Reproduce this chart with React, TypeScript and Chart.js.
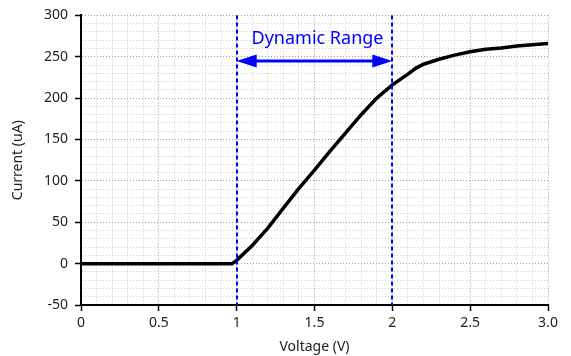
import React, { useEffect, useRef } from "react";
import { Chart, registerables } from "chart.js";

Chart.register(...registerables);

const voltage = [0, 0.5, 0.97, 1.0, 1.1, 1.2, 1.3, 1.4, 1.5, 1.6, 1.7, 1.8, 1.9, 2.0, 2.1, 2.15, 2.2, 2.3, 2.4, 2.5, 2.6, 2.7, 2.8, 2.9, 3.0];
const current = [0, 0, 0, 4, 22, 43, 67, 91, 113, 136, 158, 180, 200, 216, 229, 236, 241, 247, 252, 256, 259, 260.5, 263, 264.5, 266];

const xTickLabels = ["0", "0.5", "1", "1.5", "2", "2.5", "3.0"];
const yTickLabels = ["-50", "0", "50", "100", "150", "200", "250", "300"];

const rangeBounds = [1, 2];
const arrowLevel = 245;
const rangeLabel = "Dynamic Range";
const rangeLabelLevel = 272;

const FONT = "'Noto Sans', 'DejaVu Sans', sans-serif";

const isMajor = (v: number, step: number) => Math.abs(v / step - Math.round(v / step)) < 1e-6;

const rangePlugin = {
  id: "rangePlugin",
  afterDatasetsDraw(chart: any) {
    const { ctx, chartArea, scales } = chart;
    const xs = scales.x;
    const ys = scales.y;
    const blue = "#0000ff";
    ctx.save();
    ctx.strokeStyle = blue;
    ctx.lineWidth = 2;
    ctx.setLineDash([4, 3]);
    for (const b of rangeBounds) {
      const px = Math.round(xs.getPixelForValue(b));
      ctx.beginPath();
      ctx.moveTo(px, chartArea.top);
      ctx.lineTo(px, chartArea.bottom);
      ctx.stroke();
    }
    ctx.setLineDash([]);
    const x1 = xs.getPixelForValue(rangeBounds[0]);
    const x2 = xs.getPixelForValue(rangeBounds[1]);
    const ay = ys.getPixelForValue(arrowLevel);
    const headL = 20;
    const headH = 6.5;
    ctx.lineWidth = 3;
    ctx.beginPath();
    ctx.moveTo(x1 + headL - 2, ay);
    ctx.lineTo(x2 - headL + 2, ay);
    ctx.stroke();
    ctx.fillStyle = blue;
    ctx.beginPath();
    ctx.moveTo(x1, ay);
    ctx.lineTo(x1 + headL, ay - headH);
    ctx.lineTo(x1 + headL, ay + headH);
    ctx.closePath();
    ctx.fill();
    ctx.beginPath();
    ctx.moveTo(x2, ay);
    ctx.lineTo(x2 - headL, ay - headH);
    ctx.lineTo(x2 - headL, ay + headH);
    ctx.closePath();
    ctx.fill();
    ctx.font = `18px ${FONT}`;
    ctx.textAlign = "center";
    ctx.textBaseline = "middle";
    ctx.fillText(rangeLabel, (x1 + x2) / 2 + 3, ys.getPixelForValue(rangeLabelLevel));
    ctx.restore();
  },
};

const gridColor = (step: number) => (c: any) =>
  c.tick && isMajor(c.tick.value, step) ? "rgba(150,150,150,0.9)" : "rgba(190,190,190,0.8)";
const tickColor = (step: number) => (c: any) =>
  c.tick && isMajor(c.tick.value, step) ? "#000" : "rgba(0,0,0,0)";

export default function App() {
  const canvasRef = useRef<HTMLCanvasElement | null>(null);

  useEffect(() => {
    if (!canvasRef.current) return;
    const chart = new Chart(canvasRef.current, {
      type: "scatter",
      data: {
        datasets: [
          {
            data: voltage.map((v, i) => ({ x: v, y: current[i] })),
            showLine: true,
            borderColor: "#000000",
            borderWidth: 3.5,
            pointRadius: 0,
            tension: 0,
          },
        ],
      },
      options: {
        animation: false,
        responsive: false,
        maintainAspectRatio: false,
        layout: { padding: { top: 13, right: 23, left: 0, bottom: 0 } },
        plugins: { legend: { display: false }, tooltip: { enabled: false } },
        scales: {
          x: {
            type: "linear",
            min: 0,
            max: 3,
            afterFit: (s: any) => {
              s.height = 51;
            },
            ticks: {
              stepSize: 0.1,
              autoSkip: false,
              maxRotation: 0,
              color: "#222",
              font: { family: FONT, size: 14 },
              padding: 4,
              callback: (v: any) => {
                const n = Number(v);
                return isMajor(n, 0.5) ? xTickLabels[Math.round(n / 0.5)] : "";
              },
            },
            grid: {
              color: gridColor(0.5),
              lineWidth: 1,
              tickColor: tickColor(0.5),
              tickLength: 6,
              tickWidth: 1.5,
              tickBorderDash: [],
            } as any,
            border: { display: true, color: "#000", width: 2, dash: [1, 2] },
            title: {
              display: true,
              text: "Voltage (V)",
              color: "#222",
              font: { family: FONT, size: 14 },
              padding: { top: 0, bottom: 1 },
            },
          },
          y: {
            type: "linear",
            min: -50,
            max: 300,
            afterFit: (s: any) => {
              s.width = 81;
            },
            ticks: {
              stepSize: 10,
              autoSkip: false,
              color: "#222",
              font: { family: FONT, size: 14 },
              padding: 7,
              callback: (v: any) => {
                const n = Number(v);
                return isMajor(n, 50) ? yTickLabels[Math.round((n + 50) / 50)] : "";
              },
            },
            grid: {
              color: gridColor(50),
              lineWidth: 1,
              tickColor: tickColor(50),
              tickLength: 6,
              tickWidth: 1.5,
              tickBorderDash: [],
            } as any,
            border: { display: true, color: "#000", width: 2, dash: [1, 2] },
            title: {
              display: true,
              text: "Current (uA)",
              color: "#222",
              font: { family: FONT, size: 14 },
              padding: { top: 10, bottom: 0 },
            },
          },
        },
      } as any,
      plugins: [rangePlugin],
    });
    return () => chart.destroy();
  }, []);

  return (
    <div style={{ position: "fixed", left: 0, top: 0, width: 571, height: 356, background: "#fff" }}>
      <canvas ref={canvasRef} width={571} height={356} style={{ width: 571, height: 356 }} />
    </div>
  );
}
